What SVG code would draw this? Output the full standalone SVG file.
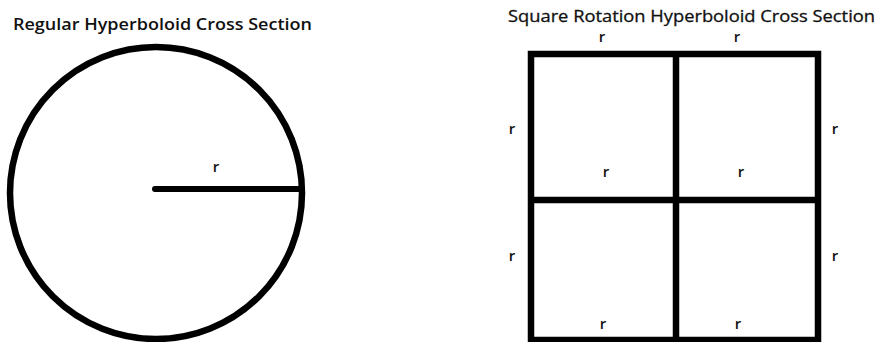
<svg xmlns="http://www.w3.org/2000/svg" width="881" height="342" viewBox="0 0 881 342">
<style>
.title{font-family:"Open Sans","Liberation Sans",sans-serif;font-size:16px;fill:#111}
.lbl{font-family:"Open Sans","Liberation Sans",sans-serif;font-size:15px;fill:#111;text-anchor:middle;font-weight:600}
.stk{fill:none;stroke:#000;stroke-width:6.5}
</style>
<rect width="881" height="342" fill="#fff"/>
<g id="circle-section">
<text class="title" x="13" y="30" font-weight="600" textLength="299" lengthAdjust="spacingAndGlyphs">Regular Hyperboloid Cross Section</text>
<circle class="stk" cx="156" cy="193" r="146"/>
<line x1="155" y1="189" x2="302" y2="189" stroke="#000" stroke-width="6" stroke-linecap="round"/>
<text class="lbl" x="216" y="172">r</text>
</g>
<g id="square-section">
<text class="title" x="508" y="22" stroke="#111" stroke-width="0.3" textLength="367" lengthAdjust="spacingAndGlyphs">Square Rotation Hyperboloid Cross Section</text>
<rect class="stk" x="531" y="54" width="287" height="286"/>
<line class="stk" x1="676" y1="54" x2="676" y2="340"/>
<line class="stk" x1="531" y1="200" x2="818" y2="200"/>
<text class="lbl" x="602" y="42">r</text>
<text class="lbl" x="737" y="42">r</text>
<text class="lbl" x="512" y="134">r</text>
<text class="lbl" x="835" y="134">r</text>
<text class="lbl" x="512" y="261">r</text>
<text class="lbl" x="835" y="261">r</text>
<text class="lbl" x="606" y="177">r</text>
<text class="lbl" x="741" y="177">r</text>
<text class="lbl" x="603" y="329">r</text>
<text class="lbl" x="738" y="329">r</text>
</g>
</svg>
